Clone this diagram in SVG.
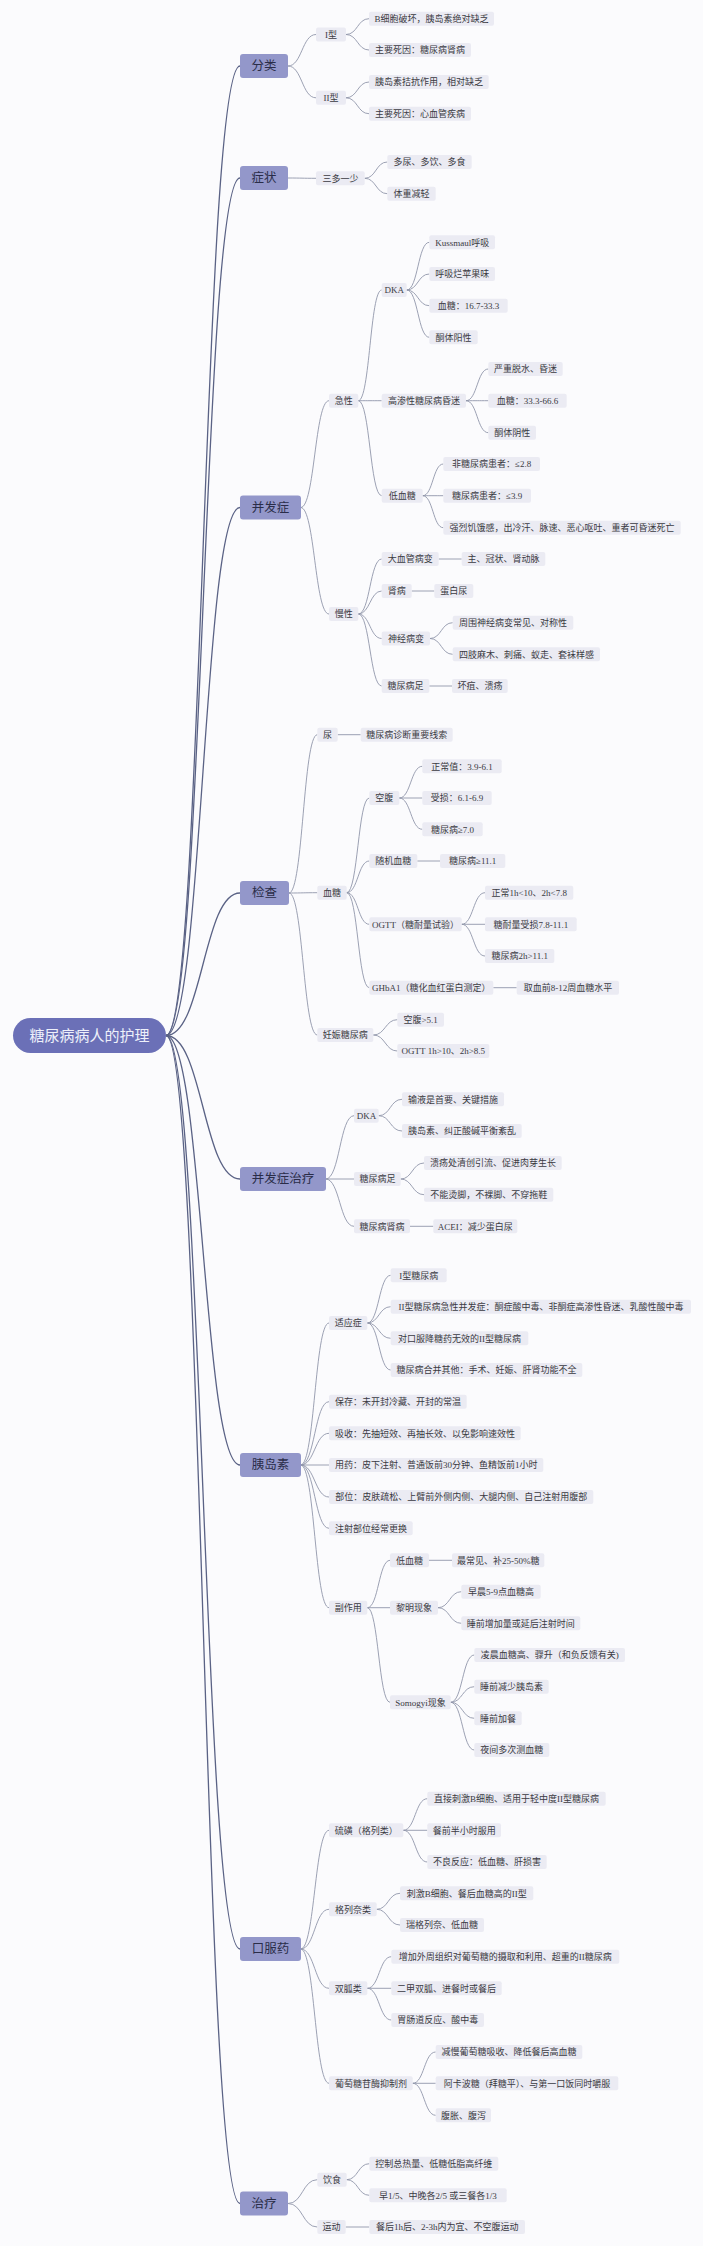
<svg xmlns="http://www.w3.org/2000/svg" width="703" height="2246" viewBox="0 0 703 2246">
<style>
.bg{fill:#fbfbfd}
.r0{fill:#6b70b7}
.r1{fill:#9397ca}
.rn{fill:#ebebf3}
text{font-family:"Liberation Serif","Noto Sans CJK SC",serif;text-anchor:middle}
.t0{font-size:15px;fill:#eef0fa}
.t1{font-size:12.5px;fill:#2a2d48}
.tn{font-size:9px;fill:#3a3a42}
.c0{fill:none;stroke:#5a6285;stroke-width:1.3}
.c{fill:none;stroke:#9196aa;stroke-width:0.9}
</style>
<rect class="bg" x="0" y="0" width="703" height="2246"/>
<g id="connectors">
<g id="root-lines">
<path class="c0" d="M166 1035.5C203 1035.5 203 66 240 66"/>
<path class="c0" d="M166 1035.5C203 1035.5 203 178 240 178"/>
<path class="c0" d="M166 1035.5C203 1035.5 203 507.5 240 507.5"/>
<path class="c0" d="M166 1035.5C203 1035.5 203 893 240 893"/>
<path class="c0" d="M166 1035.5C203 1035.5 203 1179 240 1179"/>
<path class="c0" d="M166 1035.5C203 1035.5 203 1465 240 1465"/>
<path class="c0" d="M166 1035.5C203 1035.5 203 1949 240 1949"/>
<path class="c0" d="M166 1035.5C203 1035.5 203 2203.5 240 2203.5"/>
</g>
<path class="c" d="M288 66C302 66 302 34.5 316 34.5"/>
<path class="c" d="M288 66C302 66 302 97.8 316 97.8"/>
<path class="c" d="M346 34.5C357.5 34.5 357.5 18.7 369 18.7"/>
<path class="c" d="M346 34.5C357.5 34.5 357.5 50 369 50"/>
<path class="c" d="M346 97.8C357.5 97.8 357.5 82 369 82"/>
<path class="c" d="M346 97.8C357.5 97.8 357.5 113.7 369 113.7"/>
<path class="c" d="M288 178C302 178 302 178.3 316 178.3"/>
<path class="c" d="M364.7 178.3C376 178.3 376 162 387.3 162"/>
<path class="c" d="M364.7 178.3C376 178.3 376 193.7 387.3 193.7"/>
<path class="c" d="M300.7 507.5C314.8 507.5 314.8 400.7 329 400.7"/>
<path class="c" d="M300.7 507.5C314.8 507.5 314.8 614 329 614"/>
<path class="c" d="M358.3 400.7C370 400.7 370 290 381.7 290"/>
<path class="c" d="M358.3 400.7C370 400.7 370 400.7 381.7 400.7"/>
<path class="c" d="M358.3 400.7C370 400.7 370 495.7 381.7 495.7"/>
<path class="c" d="M406.7 290C418 290 418 242.3 429.3 242.3"/>
<path class="c" d="M406.7 290C418 290 418 274 429.3 274"/>
<path class="c" d="M406.7 290C418 290 418 305.7 429.3 305.7"/>
<path class="c" d="M406.7 290C418 290 418 337.3 429.3 337.3"/>
<path class="c" d="M466 400.7C477.2 400.7 477.2 369 488.3 369"/>
<path class="c" d="M466 400.7C477.2 400.7 477.2 400.7 488.3 400.7"/>
<path class="c" d="M466 400.7C477.2 400.7 477.2 432.7 488.3 432.7"/>
<path class="c" d="M422.7 495.7C433 495.7 433 464 443.3 464"/>
<path class="c" d="M422.7 495.7C433 495.7 433 495.7 443.3 495.7"/>
<path class="c" d="M422.7 495.7C433 495.7 433 527.7 443.3 527.7"/>
<path class="c" d="M358.3 614C370 614 370 559 381.7 559"/>
<path class="c" d="M358.3 614C370 614 370 591 381.7 591"/>
<path class="c" d="M358.3 614C370 614 370 638.5 381.7 638.5"/>
<path class="c" d="M358.3 614C370 614 370 686 381.7 686"/>
<path class="c" d="M438.7 559H461.7"/>
<path class="c" d="M411.7 591H434.3"/>
<path class="c" d="M430 638.5C441.3 638.5 441.3 622.7 452.7 622.7"/>
<path class="c" d="M430 638.5C441.3 638.5 441.3 654.3 452.7 654.3"/>
<path class="c" d="M429.3 686H452"/>
<path class="c" d="M289 893C303.2 893 303.2 734.7 317.3 734.7"/>
<path class="c" d="M289 893C303.2 893 303.2 892.7 317.3 892.7"/>
<path class="c" d="M289 893C303.2 893 303.2 1035 317.3 1035"/>
<path class="c" d="M337.7 734.7H360.7"/>
<path class="c" d="M346.7 892.7C358 892.7 358 798 369.3 798"/>
<path class="c" d="M346.7 892.7C358 892.7 358 861 369.3 861"/>
<path class="c" d="M346.7 892.7C358 892.7 358 924.3 369.3 924.3"/>
<path class="c" d="M346.7 892.7C358 892.7 358 987.7 369.3 987.7"/>
<path class="c" d="M399.3 798C410.8 798 410.8 766.3 422.3 766.3"/>
<path class="c" d="M399.3 798H422.3"/>
<path class="c" d="M399.3 798C410.8 798 410.8 829.3 422.3 829.3"/>
<path class="c" d="M417.3 861H440"/>
<path class="c" d="M461.7 924.3C473.3 924.3 473.3 892.7 485 892.7"/>
<path class="c" d="M461.7 924.3H485"/>
<path class="c" d="M461.7 924.3C473.3 924.3 473.3 956 485 956"/>
<path class="c" d="M493.3 987.7H516.7"/>
<path class="c" d="M373.3 1035C385.3 1035 385.3 1019.7 397.3 1019.7"/>
<path class="c" d="M373.3 1035C385.3 1035 385.3 1051 397.3 1051"/>
<path class="c" d="M325.7 1179C339.8 1179 339.8 1115.7 354 1115.7"/>
<path class="c" d="M325.7 1179H354"/>
<path class="c" d="M325.7 1179C339.8 1179 339.8 1226.3 354 1226.3"/>
<path class="c" d="M378.7 1115.7C390.3 1115.7 390.3 1099.3 402 1099.3"/>
<path class="c" d="M378.7 1115.7C390.3 1115.7 390.3 1131 402 1131"/>
<path class="c" d="M400.7 1179C412.3 1179 412.3 1163 424 1163"/>
<path class="c" d="M400.7 1179C412.3 1179 412.3 1194.7 424 1194.7"/>
<path class="c" d="M410 1226.3H433.3"/>
<path class="c" d="M300.7 1465C314.8 1465 314.8 1323 329 1323"/>
<path class="c" d="M300.7 1465C314.8 1465 314.8 1401.7 329 1401.7"/>
<path class="c" d="M300.7 1465C314.8 1465 314.8 1433.3 329 1433.3"/>
<path class="c" d="M300.7 1465H329"/>
<path class="c" d="M300.7 1465C314.8 1465 314.8 1497 329 1497"/>
<path class="c" d="M300.7 1465C314.8 1465 314.8 1528.3 329 1528.3"/>
<path class="c" d="M300.7 1465C314.8 1465 314.8 1607.7 329 1607.7"/>
<path class="c" d="M367.3 1323C379 1323 379 1275.3 390.7 1275.3"/>
<path class="c" d="M367.3 1323C379 1323 379 1306.7 390.7 1306.7"/>
<path class="c" d="M367.3 1323C379 1323 379 1338.3 390.7 1338.3"/>
<path class="c" d="M367.3 1323C379 1323 379 1370 390.7 1370"/>
<path class="c" d="M367.3 1607.7C378.6 1607.7 378.6 1560.3 390 1560.3"/>
<path class="c" d="M367.3 1607.7H390"/>
<path class="c" d="M367.3 1607.7C378.6 1607.7 378.6 1702.3 390 1702.3"/>
<path class="c" d="M429 1560.3H452"/>
<path class="c" d="M438 1607.7C449.6 1607.7 449.6 1591.7 461.3 1591.7"/>
<path class="c" d="M438 1607.7C449.6 1607.7 449.6 1623.3 461.3 1623.3"/>
<path class="c" d="M450.7 1702.3C462.5 1702.3 462.5 1655 474.3 1655"/>
<path class="c" d="M450.7 1702.3C462.5 1702.3 462.5 1686.7 474.3 1686.7"/>
<path class="c" d="M450.7 1702.3C462.5 1702.3 462.5 1718.3 474.3 1718.3"/>
<path class="c" d="M450.7 1702.3C462.5 1702.3 462.5 1750 474.3 1750"/>
<path class="c" d="M300.7 1949C314.8 1949 314.8 1830.3 329 1830.3"/>
<path class="c" d="M300.7 1949C314.8 1949 314.8 1909.3 329 1909.3"/>
<path class="c" d="M300.7 1949C314.8 1949 314.8 1988.3 329 1988.3"/>
<path class="c" d="M300.7 1949C314.8 1949 314.8 2083.3 329 2083.3"/>
<path class="c" d="M403.3 1830.3C415.3 1830.3 415.3 1798.7 427.3 1798.7"/>
<path class="c" d="M403.3 1830.3H427.3"/>
<path class="c" d="M403.3 1830.3C415.3 1830.3 415.3 1862 427.3 1862"/>
<path class="c" d="M376.7 1909.3C388.3 1909.3 388.3 1893.3 400 1893.3"/>
<path class="c" d="M376.7 1909.3C388.3 1909.3 388.3 1925 400 1925"/>
<path class="c" d="M367.3 1988.3C379.3 1988.3 379.3 1956.7 391.3 1956.7"/>
<path class="c" d="M367.3 1988.3H391.3"/>
<path class="c" d="M367.3 1988.3C379.3 1988.3 379.3 2020 391.3 2020"/>
<path class="c" d="M412.7 2083.3C424.2 2083.3 424.2 2052 435.7 2052"/>
<path class="c" d="M412.7 2083.3H435.7"/>
<path class="c" d="M412.7 2083.3C424.2 2083.3 424.2 2115.3 435.7 2115.3"/>
<path class="c" d="M288 2203.5C302.6 2203.5 302.6 2179.7 317.3 2179.7"/>
<path class="c" d="M288 2203.5C302.6 2203.5 302.6 2227 317.3 2227"/>
<path class="c" d="M346.7 2179.7C358 2179.7 358 2163.7 369.3 2163.7"/>
<path class="c" d="M346.7 2179.7C358 2179.7 358 2195.3 369.3 2195.3"/>
<path class="c" d="M345.7 2227H369.3"/>
</g>
<g id="root"><rect class="r0" x="13" y="1018" width="153" height="35" rx="17.5"/><text class="t0" x="89.5" y="1040.8">糖尿病病人的护理</text></g>
<g id="n1"><rect class="r1" x="240" y="54" width="48" height="24" rx="3"/><text class="t1" x="264" y="70.4">分类</text></g>
<g id="n2"><rect class="r1" x="240" y="166" width="48" height="24" rx="3"/><text class="t1" x="264" y="182.4">症状</text></g>
<g id="n3"><rect class="r1" x="240" y="495.5" width="61" height="24" rx="3"/><text class="t1" x="270.5" y="511.9">并发症</text></g>
<g id="n4"><rect class="r1" x="240" y="881" width="49" height="24" rx="3"/><text class="t1" x="264.5" y="897.4">检查</text></g>
<g id="n5"><rect class="r1" x="240" y="1167" width="86" height="24" rx="3"/><text class="t1" x="283" y="1183.4">并发症治疗</text></g>
<g id="n6"><rect class="r1" x="240" y="1453" width="61" height="24" rx="3"/><text class="t1" x="270.5" y="1469.4">胰岛素</text></g>
<g id="n7"><rect class="r1" x="240" y="1937" width="61" height="24" rx="3"/><text class="t1" x="270.5" y="1953.4">口服药</text></g>
<g id="n8"><rect class="r1" x="240" y="2191.5" width="48" height="24" rx="3"/><text class="t1" x="264" y="2207.9">治疗</text></g>

<g id="a1"><rect class="rn" x="316" y="27.5" width="30" height="14" rx="2"/><text class="tn" x="331" y="37.7">I型</text></g>
<g id="a1a"><rect class="rn" x="369" y="11.7" width="125" height="14" rx="2"/><text class="tn" x="431.5" y="21.9">B细胞破坏，胰岛素绝对缺乏</text></g>
<g id="a1b"><rect class="rn" x="369" y="43" width="102" height="14" rx="2"/><text class="tn" x="420" y="53.2">主要死因：糖尿病肾病</text></g>
<g id="a2"><rect class="rn" x="316" y="90.8" width="30" height="14" rx="2"/><text class="tn" x="331" y="101">II型</text></g>
<g id="a2a"><rect class="rn" x="369" y="75" width="119.7" height="14" rx="2"/><text class="tn" x="428.9" y="85.2">胰岛素拮抗作用，相对缺乏</text></g>
<g id="a2b"><rect class="rn" x="369" y="106.7" width="102" height="14" rx="2"/><text class="tn" x="420" y="116.9">主要死因：心血管疾病</text></g>
<g id="b1"><rect class="rn" x="316" y="171.3" width="48.7" height="14" rx="2"/><text class="tn" x="340.4" y="181.5">三多一少</text></g>
<g id="b1a"><rect class="rn" x="387.3" y="155" width="84.4" height="14" rx="2"/><text class="tn" x="429.5" y="165.2">多尿、多饮、多食</text></g>
<g id="b1b"><rect class="rn" x="387.3" y="186.7" width="48.4" height="14" rx="2"/><text class="tn" x="411.5" y="196.9">体重减轻</text></g>

<g id="c1"><rect class="rn" x="329" y="393.7" width="29.3" height="14" rx="2"/><text class="tn" x="343.7" y="403.9">急性</text></g>
<g id="c1a"><rect class="rn" x="381.7" y="283" width="25" height="14" rx="2"/><text class="tn" x="394.2" y="293.2">DKA</text></g>
<g id="c1a1"><rect class="rn" x="429.3" y="235.3" width="65.7" height="14" rx="2"/><text class="tn" x="462.2" y="245.5">Kussmaul呼吸</text></g>
<g id="c1a2"><rect class="rn" x="429.3" y="267" width="65.7" height="14" rx="2"/><text class="tn" x="462.2" y="277.2">呼吸烂苹果味</text></g>
<g id="c1a3"><rect class="rn" x="429.3" y="298.7" width="78.4" height="14" rx="2"/><text class="tn" x="468.5" y="308.9">血糖：16.7-33.3</text></g>
<g id="c1a4"><rect class="rn" x="429.3" y="330.3" width="48.4" height="14" rx="2"/><text class="tn" x="453.5" y="340.5">酮体阳性</text></g>
<g id="c1b"><rect class="rn" x="381.7" y="393.7" width="84.3" height="14" rx="2"/><text class="tn" x="423.9" y="403.9">高渗性糖尿病昏迷</text></g>
<g id="c1b1"><rect class="rn" x="488.3" y="362" width="74.4" height="14" rx="2"/><text class="tn" x="525.5" y="372.2">严重脱水、昏迷</text></g>
<g id="c1b2"><rect class="rn" x="488.3" y="393.7" width="78.4" height="14" rx="2"/><text class="tn" x="527.5" y="403.9">血糖：33.3-66.6</text></g>
<g id="c1b3"><rect class="rn" x="488.3" y="425.7" width="47.7" height="14" rx="2"/><text class="tn" x="512.2" y="435.9">酮体阴性</text></g>
<g id="c1c"><rect class="rn" x="381.7" y="488.7" width="41" height="14" rx="2"/><text class="tn" x="402.2" y="498.9">低血糖</text></g>
<g id="c1c1"><rect class="rn" x="443.3" y="457" width="96.7" height="14" rx="2"/><text class="tn" x="491.7" y="467.2">非糖尿病患者：≤2.8</text></g>
<g id="c1c2"><rect class="rn" x="443.3" y="488.7" width="87.7" height="14" rx="2"/><text class="tn" x="487.2" y="498.9">糖尿病患者：≤3.9</text></g>
<g id="c1c3"><rect class="rn" x="443.3" y="520.7" width="237.4" height="14" rx="2"/><text class="tn" x="562" y="530.9">强烈饥饿感，出冷汗、脉速、恶心呕吐、重者可昏迷死亡</text></g>
<g id="c2"><rect class="rn" x="329" y="607" width="29.3" height="14" rx="2"/><text class="tn" x="343.7" y="617.2">慢性</text></g>
<g id="c2a"><rect class="rn" x="381.7" y="552" width="57" height="14" rx="2"/><text class="tn" x="410.2" y="562.2">大血管病变</text></g>
<g id="c2a1"><rect class="rn" x="461.7" y="552" width="83.6" height="14" rx="2"/><text class="tn" x="503.5" y="562.2">主、冠状、肾动脉</text></g>
<g id="c2b"><rect class="rn" x="381.7" y="584" width="30" height="14" rx="2"/><text class="tn" x="396.7" y="594.2">肾病</text></g>
<g id="c2b1"><rect class="rn" x="434.3" y="584" width="39" height="14" rx="2"/><text class="tn" x="453.8" y="594.2">蛋白尿</text></g>
<g id="c2c"><rect class="rn" x="381.7" y="631.5" width="48.3" height="14" rx="2"/><text class="tn" x="405.9" y="641.7">神经病变</text></g>
<g id="c2c1"><rect class="rn" x="452.7" y="615.7" width="120.6" height="14" rx="2"/><text class="tn" x="513" y="625.9">周围神经病变常见、对称性</text></g>
<g id="c2c2"><rect class="rn" x="452.7" y="647.3" width="147.3" height="14" rx="2"/><text class="tn" x="526.4" y="657.5">四肢麻木、刺痛、蚁走、套袜样感</text></g>
<g id="c2d"><rect class="rn" x="381.7" y="679" width="47.6" height="14" rx="2"/><text class="tn" x="405.5" y="689.2">糖尿病足</text></g>
<g id="c2d1"><rect class="rn" x="452" y="679" width="55.7" height="14" rx="2"/><text class="tn" x="479.9" y="689.2">坏疽、溃疡</text></g>

<g id="d1"><rect class="rn" x="317.3" y="727.7" width="20.4" height="14" rx="2"/><text class="tn" x="327.5" y="737.9">尿</text></g>
<g id="d1a"><rect class="rn" x="360.7" y="727.7" width="92" height="14" rx="2"/><text class="tn" x="406.7" y="737.9">糖尿病诊断重要线索</text></g>
<g id="d2"><rect class="rn" x="317.3" y="885.7" width="29.4" height="14" rx="2"/><text class="tn" x="332" y="895.9">血糖</text></g>
<g id="d2a"><rect class="rn" x="369.3" y="791" width="30" height="14" rx="2"/><text class="tn" x="384.3" y="801.2">空腹</text></g>
<g id="d2a1"><rect class="rn" x="422.3" y="759.3" width="79.4" height="14" rx="2"/><text class="tn" x="462" y="769.5">正常值：3.9-6.1</text></g>
<g id="d2a2"><rect class="rn" x="422.3" y="791" width="69.4" height="14" rx="2"/><text class="tn" x="457" y="801.2">受损：6.1-6.9</text></g>
<g id="d2a3"><rect class="rn" x="422.3" y="822.3" width="60.4" height="14" rx="2"/><text class="tn" x="452.5" y="832.5">糖尿病≥7.0</text></g>
<g id="d2b"><rect class="rn" x="369.3" y="854" width="48" height="14" rx="2"/><text class="tn" x="393.3" y="864.2">随机血糖</text></g>
<g id="d2b1"><rect class="rn" x="440" y="854" width="65.3" height="14" rx="2"/><text class="tn" x="472.7" y="864.2">糖尿病≥11.1</text></g>
<g id="d2c"><rect class="rn" x="369.3" y="917.3" width="92.4" height="14" rx="2"/><text class="tn" x="415.5" y="927.5">OGTT（糖耐量试验）</text></g>
<g id="d2c1"><rect class="rn" x="485" y="885.7" width="88.3" height="14" rx="2"/><text class="tn" x="529.2" y="895.9">正常1h&lt;10、2h&lt;7.8</text></g>
<g id="d2c2"><rect class="rn" x="485" y="917.3" width="91.7" height="14" rx="2"/><text class="tn" x="530.9" y="927.5">糖耐量受损7.8-11.1</text></g>
<g id="d2c3"><rect class="rn" x="485" y="949" width="69.3" height="14" rx="2"/><text class="tn" x="519.7" y="959.2">糖尿病2h&gt;11.1</text></g>
<g id="d2d"><rect class="rn" x="369.3" y="980.7" width="124" height="14" rx="2"/><text class="tn" x="431.3" y="990.9">GHbA1（糖化血红蛋白测定）</text></g>
<g id="d2d1"><rect class="rn" x="516.7" y="980.7" width="102.3" height="14" rx="2"/><text class="tn" x="567.9" y="990.9">取血前8-12周血糖水平</text></g>
<g id="d3"><rect class="rn" x="317.3" y="1028" width="56" height="14" rx="2"/><text class="tn" x="345.3" y="1038.2">妊娠糖尿病</text></g>
<g id="d3a"><rect class="rn" x="397.3" y="1012.7" width="46.7" height="14" rx="2"/><text class="tn" x="420.7" y="1022.9">空腹&gt;5.1</text></g>
<g id="d3b"><rect class="rn" x="397.3" y="1044" width="92" height="14" rx="2"/><text class="tn" x="443.3" y="1054.2">OGTT 1h&gt;10、2h&gt;8.5</text></g>

<g id="e1"><rect class="rn" x="354" y="1108.7" width="24.7" height="14" rx="2"/><text class="tn" x="366.4" y="1118.9">DKA</text></g>
<g id="e1a"><rect class="rn" x="402" y="1092.3" width="102" height="14" rx="2"/><text class="tn" x="453" y="1102.5">输液是首要、关键措施</text></g>
<g id="e1b"><rect class="rn" x="402" y="1124" width="119.7" height="14" rx="2"/><text class="tn" x="461.9" y="1134.2">胰岛素、纠正酸碱平衡紊乱</text></g>
<g id="e2"><rect class="rn" x="354" y="1172" width="46.7" height="14" rx="2"/><text class="tn" x="377.4" y="1182.2">糖尿病足</text></g>
<g id="e2a"><rect class="rn" x="424" y="1156" width="137.7" height="14" rx="2"/><text class="tn" x="492.9" y="1166.2">溃疡处清创引流、促进肉芽生长</text></g>
<g id="e2b"><rect class="rn" x="424" y="1187.7" width="129.3" height="14" rx="2"/><text class="tn" x="488.7" y="1197.9">不能烫脚，不裸脚、不穿拖鞋</text></g>
<g id="e3"><rect class="rn" x="354" y="1219.3" width="56" height="14" rx="2"/><text class="tn" x="382" y="1229.5">糖尿病肾病</text></g>
<g id="e3a"><rect class="rn" x="433.3" y="1219.3" width="84" height="14" rx="2"/><text class="tn" x="475.3" y="1229.5">ACEI：减少蛋白尿</text></g>

<g id="f1"><rect class="rn" x="329" y="1316" width="38.3" height="14" rx="2"/><text class="tn" x="348.2" y="1326.2">适应症</text></g>
<g id="f1a"><rect class="rn" x="390.7" y="1268.3" width="56" height="14" rx="2"/><text class="tn" x="418.7" y="1278.5">I型糖尿病</text></g>
<g id="f1b"><rect class="rn" x="390.7" y="1299.7" width="300.3" height="14" rx="2"/><text class="tn" x="540.9" y="1309.9">II型糖尿病急性并发症：酮症酸中毒、非酮症高渗性昏迷、乳酸性酸中毒</text></g>
<g id="f1c"><rect class="rn" x="390.7" y="1331.3" width="137.6" height="14" rx="2"/><text class="tn" x="459.5" y="1341.5">对口服降糖药无效的II型糖尿病</text></g>
<g id="f1d"><rect class="rn" x="390.7" y="1363" width="191.6" height="14" rx="2"/><text class="tn" x="486.5" y="1373.2">糖尿病合并其他：手术、妊娠、肝肾功能不全</text></g>
<g id="f2"><rect class="rn" x="329" y="1394.7" width="137.7" height="14" rx="2"/><text class="tn" x="397.9" y="1404.9">保存：未开封冷藏、开封的常温</text></g>
<g id="f3"><rect class="rn" x="329" y="1426.3" width="191.7" height="14" rx="2"/><text class="tn" x="424.9" y="1436.5">吸收：先抽短效、再抽长效、以免影响速效性</text></g>
<g id="f4"><rect class="rn" x="329" y="1458" width="214.3" height="14" rx="2"/><text class="tn" x="436.2" y="1468.2">用药：皮下注射、普通饭前30分钟、鱼精饭前1小时</text></g>
<g id="f5"><rect class="rn" x="329" y="1490" width="264.3" height="14" rx="2"/><text class="tn" x="461.2" y="1500.2">部位：皮肤疏松、上臂前外侧内侧、大腿内侧、自己注射用腹部</text></g>
<g id="f6"><rect class="rn" x="329" y="1521.3" width="83.7" height="14" rx="2"/><text class="tn" x="370.9" y="1531.5">注射部位经常更换</text></g>
<g id="f7"><rect class="rn" x="329" y="1600.7" width="38.3" height="14" rx="2"/><text class="tn" x="348.2" y="1610.9">副作用</text></g>
<g id="f7a"><rect class="rn" x="390" y="1553.3" width="39" height="14" rx="2"/><text class="tn" x="409.5" y="1563.5">低血糖</text></g>
<g id="f7a1"><rect class="rn" x="452" y="1553.3" width="92.3" height="14" rx="2"/><text class="tn" x="498.2" y="1563.5">最常见、补25-50%糖</text></g>
<g id="f7b"><rect class="rn" x="390" y="1600.7" width="48" height="14" rx="2"/><text class="tn" x="414" y="1610.9">黎明现象</text></g>
<g id="f7b1"><rect class="rn" x="461.3" y="1584.7" width="79.4" height="14" rx="2"/><text class="tn" x="501" y="1594.9">早晨5-9点血糖高</text></g>
<g id="f7b2"><rect class="rn" x="461.3" y="1616.3" width="119" height="14" rx="2"/><text class="tn" x="520.8" y="1626.5">睡前增加量或延后注射时间</text></g>
<g id="f7c"><rect class="rn" x="390" y="1695.3" width="60.7" height="14" rx="2"/><text class="tn" x="420.4" y="1705.5">Somogyi现象</text></g>
<g id="f7c1"><rect class="rn" x="474.3" y="1648" width="150.7" height="14" rx="2"/><text class="tn" x="549.7" y="1658.2">凌晨血糖高、骤升（和负反馈有关)</text></g>
<g id="f7c2"><rect class="rn" x="474.3" y="1679.7" width="74.4" height="14" rx="2"/><text class="tn" x="511.5" y="1689.9">睡前减少胰岛素</text></g>
<g id="f7c3"><rect class="rn" x="474.3" y="1711.3" width="47.4" height="14" rx="2"/><text class="tn" x="498" y="1721.5">睡前加餐</text></g>
<g id="f7c4"><rect class="rn" x="474.3" y="1743" width="75" height="14" rx="2"/><text class="tn" x="511.8" y="1753.2">夜间多次测血糖</text></g>

<g id="g1"><rect class="rn" x="329" y="1823.3" width="74.3" height="14" rx="2"/><text class="tn" x="366.2" y="1833.5">硫磺（格列类）</text></g>
<g id="g1a"><rect class="rn" x="427.3" y="1791.7" width="178.4" height="14" rx="2"/><text class="tn" x="516.5" y="1801.9">直接刺激B细胞、适用于轻中度II型糖尿病</text></g>
<g id="g1b"><rect class="rn" x="427.3" y="1823.3" width="73.7" height="14" rx="2"/><text class="tn" x="464.2" y="1833.5">餐前半小时服用</text></g>
<g id="g1c"><rect class="rn" x="427.3" y="1855" width="119.4" height="14" rx="2"/><text class="tn" x="487" y="1865.2">不良反应：低血糖、肝损害</text></g>
<g id="g2"><rect class="rn" x="329" y="1902.3" width="47.7" height="14" rx="2"/><text class="tn" x="352.9" y="1912.5">格列奈类</text></g>
<g id="g2a"><rect class="rn" x="400" y="1886.3" width="133.3" height="14" rx="2"/><text class="tn" x="466.7" y="1896.5">刺激B细胞、餐后血糖高的II型</text></g>
<g id="g2b"><rect class="rn" x="400" y="1918" width="84" height="14" rx="2"/><text class="tn" x="442" y="1928.2">瑞格列奈、低血糖</text></g>
<g id="g3"><rect class="rn" x="329" y="1981.3" width="38.3" height="14" rx="2"/><text class="tn" x="348.2" y="1991.5">双胍类</text></g>
<g id="g3a"><rect class="rn" x="391.3" y="1949.7" width="228" height="14" rx="2"/><text class="tn" x="505.3" y="1959.9">增加外周组织对葡萄糖的摄取和利用、超重的II糖尿病</text></g>
<g id="g3b"><rect class="rn" x="391.3" y="1981.3" width="110.4" height="14" rx="2"/><text class="tn" x="446.5" y="1991.5">二甲双胍、进餐时或餐后</text></g>
<g id="g3c"><rect class="rn" x="391.3" y="2013" width="92.7" height="14" rx="2"/><text class="tn" x="437.7" y="2023.2">胃肠道反应、酸中毒</text></g>
<g id="g4"><rect class="rn" x="329" y="2076.3" width="83.7" height="14" rx="2"/><text class="tn" x="370.9" y="2086.5">葡萄糖苷酶抑制剂</text></g>
<g id="g4a"><rect class="rn" x="435.7" y="2045" width="146.6" height="14" rx="2"/><text class="tn" x="509" y="2055.2">减慢葡萄糖吸收、降低餐后高血糖</text></g>
<g id="g4b"><rect class="rn" x="435.7" y="2076.3" width="182.6" height="14" rx="2"/><text class="tn" x="527" y="2086.5">阿卡波糖（拜糖平）、与第一口饭同时嚼服</text></g>
<g id="g4c"><rect class="rn" x="435.7" y="2108.3" width="55.3" height="14" rx="2"/><text class="tn" x="463.4" y="2118.5">腹胀、腹泻</text></g>

<g id="h1"><rect class="rn" x="317.3" y="2172.7" width="29.4" height="14" rx="2"/><text class="tn" x="332" y="2182.9">饮食</text></g>
<g id="h1a"><rect class="rn" x="369.3" y="2156.7" width="129" height="14" rx="2"/><text class="tn" x="433.8" y="2166.9">控制总热量、低糖低脂高纤维</text></g>
<g id="h1b"><rect class="rn" x="369.3" y="2188.3" width="137.4" height="14" rx="2"/><text class="tn" x="438" y="2198.5">早1/5、中晚各2/5 或三餐各1/3</text></g>
<g id="h2"><rect class="rn" x="317.3" y="2220" width="28.4" height="14" rx="2"/><text class="tn" x="331.5" y="2230.2">运动</text></g>
<g id="h2a"><rect class="rn" x="369.3" y="2220" width="155.7" height="14" rx="2"/><text class="tn" x="447.2" y="2230.2">餐后1h后、2-3h内为宜、不空腹运动</text></g>
</svg>
